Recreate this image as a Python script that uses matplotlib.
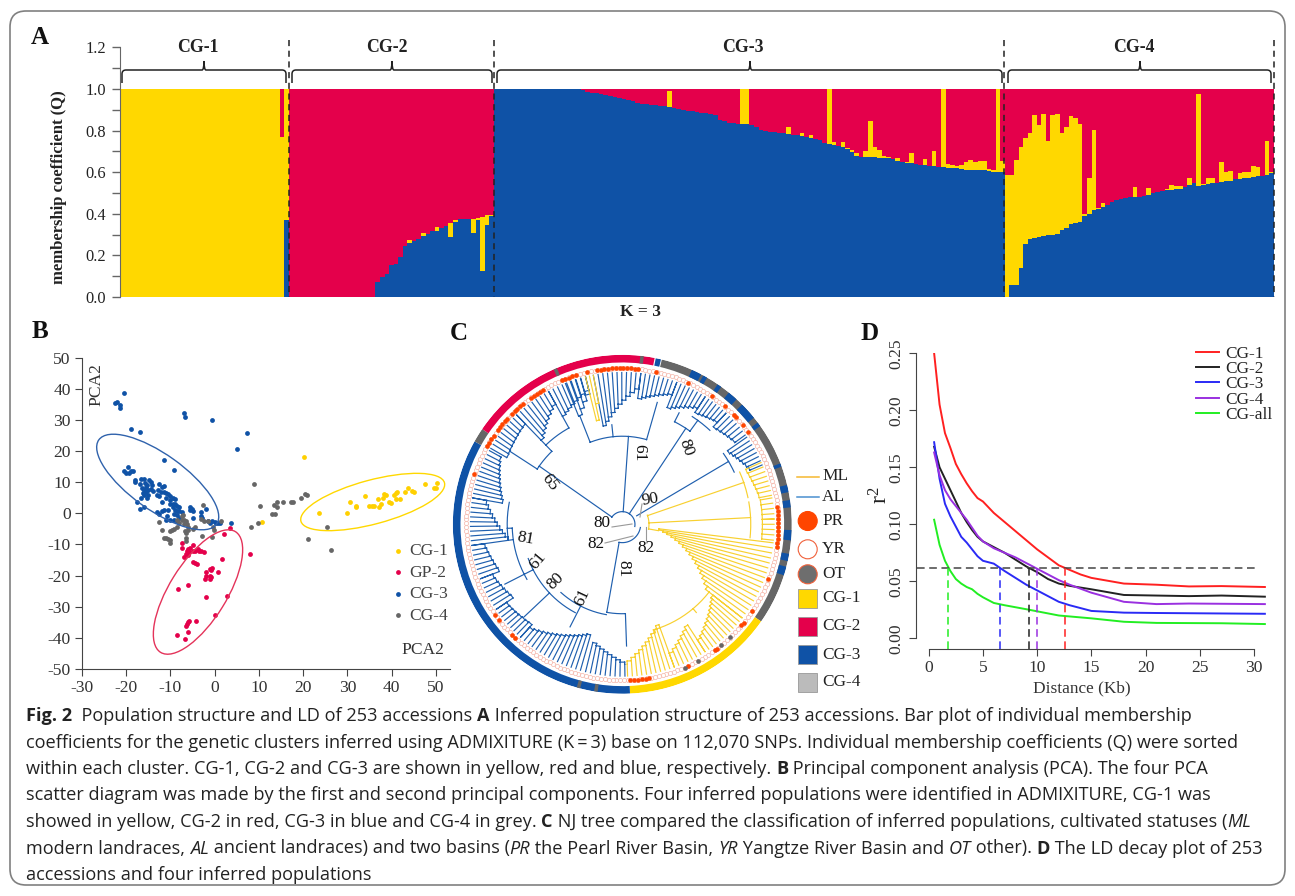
import numpy as np
import matplotlib
matplotlib.use('Agg')
import matplotlib.pyplot as plt
from matplotlib.path import Path
from matplotlib.patches import PathPatch, Ellipse, Circle, Rectangle, FancyBboxPatch

W, H = 1295, 896
YEL, RED, BLU, GRY = '#FFD800', '#E4004B', '#0F52A6', '#666666'
SERIF = 'Liberation Serif'
plt.rcParams['font.family'] = SERIF
plt.rcParams['mathtext.fontset'] = 'custom'
plt.rcParams['mathtext.rm'] = SERIF
plt.rcParams['axes.unicode_minus'] = False

# panel A, one entry per accession: blue share and yellow share, the rest is red
cg1Blue = [0.0] * 36 + [0.37]
cg1Yellow = [1.0] * 35 + [0.77, 0.63]
cg2Blue = [0.0] * 19 + [0.07, 0.095, 0.11, 0.155, 0.16, 0.19, 0.245, 0.26, 0.27, 0.28, 0.295, 0.305, 0.315,
                        0.315, 0.33, 0.34, 0.29, 0.36, 0.375, 0.375, 0.375, 0.31, 0.37, 0.125, 0.345, 0.39]
cg2Yellow = [0.0] * 19 + [0, 0, 0, 0, 0, 0, 0, 0.015, 0, 0, 0.015, 0, 0,
                          0.02, 0, 0, 0.065, 0.01, 0, 0, 0, 0.065, 0.01, 0.26, 0.05, 0.005]
cg3Blue = [1.0] * 19 + [0.995, 0.985, 0.98, 0.98, 0.975, 0.97, 0.965, 0.96, 0.955, 0.95, 0.945, 0.94, 0.935,
                        0.928, 0.928, 0.925, 0.923, 0.92, 0.917, 0.912, 0.908, 0.905, 0.90,
                        0.895, 0.893, 0.89, 0.885, 0.883, 0.88, 0.875, 0.85, 0.845, 0.838,
                        0.835, 0.833, 0.83, 0.83, 0.825, 0.815, 0.805, 0.80, 0.795, 0.793,
                        0.79, 0.788, 0.785, 0.78, 0.778, 0.775, 0.77, 0.765, 0.76, 0.755,
                        0.74, 0.735, 0.73, 0.725, 0.72, 0.71, 0.695, 0.68, 0.675, 0.675,
                        0.675, 0.675, 0.67, 0.67, 0.67, 0.665, 0.655, 0.65, 0.645, 0.645,
                        0.64, 0.635, 0.635, 0.63, 0.63, 0.625, 0.625, 0.62, 0.62, 0.62,
                        0.615, 0.612, 0.61, 0.61, 0.61, 0.61, 0.605, 0.60, 0.60, 0.60]
cg3Yellow = [0.0] * 32 + [0, 0, 0, 0, 0, 0, 0.078, 0, 0, 0,
                          0, 0, 0, 0, 0, 0, 0, 0, 0, 0,
                          0, 0, 0.17, 0.17, 0, 0, 0, 0, 0, 0,
                          0, 0, 0.031, 0, 0, 0.015, 0, 0.015, 0, 0,
                          0, 0.265, 0.015, 0, 0.025, 0.005, 0.01, 0.01, 0, 0.025,
                          0.17, 0.045, 0.035, 0.01, 0.005, 0, 0.015, 0, 0.005, 0.045,
                          0, 0, 0.03, 0, 0.07, 0, 0.375, 0.02, 0.015, 0.01,
                          0.02, 0.038, 0.05, 0.04, 0.045, 0.045, 0.01, 0.01, 0.40, 0.055]
cg4Blue = [0.0, 0.06, 0.06, 0.14, 0.255, 0.28, 0.285, 0.29, 0.295, 0.30,
           0.30, 0.305, 0.32, 0.33, 0.35, 0.355, 0.36, 0.39, 0.40, 0.42,
           0.425, 0.435, 0.44, 0.455, 0.465, 0.47, 0.475, 0.48, 0.48, 0.48,
           0.485, 0.49, 0.50, 0.505, 0.51, 0.515, 0.515, 0.52, 0.52, 0.53,
           0.54, 0.55, 0.535, 0.54, 0.545, 0.55, 0.55, 0.555, 0.56, 0.56,
           0.565, 0.565, 0.57, 0.57, 0.575, 0.58, 0.58, 0.585, 0.595]
cg4Yellow = [0.585, 0.525, 0.60, 0.58, 0.51, 0.51, 0.59, 0.535, 0.585, 0.45,
             0.575, 0.575, 0.47, 0.485, 0.52, 0.505, 0.47, 0.01, 0.17, 0.385,
             0.005, 0.015, 0, 0, 0, 0, 0, 0, 0.05, 0,
             0, 0.035, 0, 0, 0, 0.005, 0.025, 0.015, 0.015, 0,
             0.03, 0, 0.44, 0.005, 0.025, 0.02, 0, 0.095, 0.04, 0.045,
             0, 0.03, 0.03, 0.03, 0.055, 0.045, 0, 0.165, 0.005]
clusterNames = ['CG-1', 'CG-2', 'CG-3', 'CG-4']
qTicks = [0.0, 0.2, 0.4, 0.6, 0.8, 1.0, 1.2]

# panel B
cg1X = [20.3, 10.7, 23.5, 30, 30.5, 32, 32, 34, 35, 35.5, 36, 37, 37.2, 37.7, 38, 38.2, 38.7, 39.5, 39.8, 40.5,
        41, 41, 41.3, 42, 43, 43.8, 44.5, 45, 47.5, 49.6, 50, 50.2]
cg1Y = [18.2, -2.8, 0, 0.2, 3.5, 2.5, 2, 5.7, 2.5, 2.5, 2.4, 4.5, 2.2, 3, 4.8, 6.2, 6, 3.8, 3.4, 6,
        4.7, 6.5, 7, 4.7, 7, 8, 7.2, 6.8, 9.4, 8, 8, 9.7]
cg2X = [3.5, 2.2, 8, 1.7, -7.5, -7.5, -5, -5.5, -6, -6.3, -5.7, -5, -4.5, -3.7, -3.5, -3, -2.5, -6.5, -6, -7, -5,
        -4.5, -4, -2, -1, -0.8, -0.5, -2, -2.2, -1, -1, -0.8, 0.8, -8.2, -6, -2, 2.7, 0, -5.8, -6, -6.3, -4.3,
        -6.5, -6, -8.5, -6.8]
cg2Y = [-4.7, -6.5, -13.2, -14.7, -9.5, -11, -10.3, -11, -11.5, -12, -12.5, -12, -12, -11.5, -12, -12.2, -12.5,
        -13, -13.5, -14, -15.5, -16, -16.2, -19, -18, -18.2, -17.5, -20, -21, -20, -21, -20.5, -18.8, -24.4, -23,
        -27, -26.6, -32.7, -34.5, -35, -35.5, -34.7, -36.3, -38, -39.2, -40.3]
cg3X = [-20.5, -22, -22.5, -21.5, -21.3, -7, -6.7, -0.7, 7.2, 5, -19, -17, -11.5, -9.3, -19.5, -20.5, -20, -19.3,
        -19, -18.5, -18, -18, -17, -16.6, -16, -15.8, -15.3, -14.8, -14.5, -14.2, -16.5, -16, -15.5, -15, -14.5,
        -14, -16.3, -16, -15.5, -15, -16.6, -15.2, -17.5, -17, -16, -12.5, -12, -11.5, -12.8, -12.2, -11.5, -11,
        -13, -12.5, -10.5, -10, -9.5, -11, -10.2, -9, -11.8, -10, -9.5, -9, -8.5, -8, -9.5, -10.5, -11.5, -12,
        -13, -12.5, -9, -8.5, -8, -7.5, -9.2, -8.5, -10.8, -11, -10.2, -9.2, -8.5, -8, -5.5, -5.2, -5.5, -5, -3.2,
        -2, -3, -2.8, -5, -1.5, -1, -0.5, 0, 0.3, 0.8, 1.2, 3.8]
cg3Y = [38.7, 35.8, 35.5, 34.7, 34, 32.3, 30.8, 30, 25.7, 20.7, 27, 26, 17, 14, 15, 13.5, 13, 13, 13.5, 13.5, 10.8,
        10.2, 9.5, 10.9, 11, 9.7, 9, 10.7, 10, 9, 8, 7.5, 8.5, 7.5, 7.8, 7.2, 6.5, 6, 6.8, 6, 4.8, 5, 3.5, 1.5,
        1.9, 9.3, 8.5, 8.8, 7.5, 7, 7, 6.5, 6, 5.5, 6.2, 5.5, 5, 5, 4.2, 4.5, 3.5, 3, 3, 3, 2.5, 2, 2, 1, 1, 0.8,
        0.5, -0.2, 1, 0.8, 0.8, 0.3, -0.2, -0.5, -0.8, -2, -2.2, -2, -2.5, -1.5, 2, 1.5, 1, 0.7, 0.5, 1.5, -0.8,
        -1.5, -1.5, -2.5, -3, -2.5, -2.8, -3, -3.2, -3.2, -3]
cg4X = [9, 10.3, 9.7, 8.2, 13, 13.7, 14, 13.5, 14.2, 15.5, 17.3, 17.8, 19.5, 20.5, 20.8, 25.3, 21, 26.3, -2.7, -12.5,
        -11.8, -11.5, -11, -10.5, -10.2, -10, -10, -9.7, -9.2, -8.5, -8.5, -8, -7.5, -7.5, -7.2, -7, -7, -6.5,
        -6.8, -6.5, -6, -6.2, -6.5, -6.5, -6, -5, -4.5, -3, -2.5, -1.5, -2.8, -0.6, -0.3, -0.2, 1.5]
cg4Y = [9.5, 2.4, -3.1, -4.5, -0.2, -0.2, 3.5, 2.8, 2, 3.8, 3.5, 3.7, 4.8, 6.2, 6, -4.5, -8.4, -11.7, 2.7, -2.7,
        -5.5, -8, -8, -8.3, -9.5, -8.7, -5.6, -5.2, -5, -4.5, -2, -3, -2.2, -1, -0.5, -2, -3.5, -2.5,
        -5.8, -6.2, -5.5, -3.5, -8, -9, -4.5, -5, -4.5, -1.8, -2.5, -2.5, -7.3, -7.7, -4.5, -5.3, -2.5]
pcaTicks = [-30, -20, -10, 0, 10, 20, 30, 40, 50]
pcaYTicks = [-50, -40, -30, -20, -10, 0, 10, 20, 30, 40, 50]

# panel C, angles in degrees clockwise from north, radii in ring units
ringAngles = [13.5, 125, 177.4, 299.3, 304.2]
greyInBlue = [189, 195]
greyInRed = [336.7, 6.7]
blueInGrey = [(12.3, 1.8), (26, 3.5), (29.3, 1.5), (35, 1.5), (40.7, 3.5), (48, 6), (53.8, 1.5), (69.5, 1.2),
              (77.8, 2.5), (83, 2.5), (93.7, 3.5), (101.3, 2.5), (106, 3)]
prAngles = [-9.4, -8, -6.6, -5.2, -3.8, -2.4, -1, 0.4, 1.8, 3.2, 4.6, 5.9, -13.2, 12.5, 25, 35, 41, 45.6, 46.8, 50.7,
            53.6, 83.5, 85, 86.5, 88, 89.5, 91, 92.5, 94, 95.5, 97, 98.2, 110.7, 123.7, 129, 130.3, 142.7, 143.8,
            155.3, 170, 171.4, 172.8, 174.2, 175.6, 177, 223.5, 224.7, 232, 234.7, 288.6, 300, 301.5, 303, 304.5, 307,
            308.4, 309.8, 311.2, 312.6, 315, 316.4, 317.8, 319.2, 320.6, 324, 325.4, 326.8, 328.2, 329.6, 337.2,
            338.6, 340, 341.4, 342.8]
otAngles = [156.5, 150.8, 140.7, 136.4]
# (start angle, end angle, root radius)
alClades = [(300, 316, 400), (316, 331, 350), (331, 346, 370), (-22, -14, 350), (-11, 7, 300), (7, 21, 380),
            (21, 33, 375), (33, 43, 400), (43, 54, 400), (55, 67, 385), (194, 179, 365), (196, 222, 345),
            (222, 236, 405), (236, 249, 395), (249, 262, 395), (262, 280, 345), (280, 299, 365)]
mlClades = [(-14, -11, 320), (66, 79, 405), (80, 88, 420), (88, 96, 420), (128, 147, 345), (147, 160, 360),
            (160, 178, 320)]
# (angle, inner radius, outer radius)
alSpokes = [(305, 38, 304), (303, 304, 400), (316, 304, 330), (331, 330, 370), (316, 330, 350), (4, 38, 264),
            (-6, 264, 300), (-21.4, 264, 350), (16, 264, 380), (33.5, 38, 345), (27, 345, 375), (36, 345, 385),
            (59.4, 50, 370), (190, 55, 268), (178, 268, 365), (207, 275, 345), (226.7, 300, 405), (243, 300, 395),
            (262, 330, 345), (268, 330, 345)]
# (start angle, end angle, radius)
alArcs = [(-56, 100, 38), (100, 190, 55), (303, 316, 304), (316, 331, 330), (-21.4, 16, 264), (27, 36, 345),
          (55, 65, 370), (178, 190, 268), (190, 222, 275), (208, 250, 300), (240, 268, 330), (262, 281, 345),
          (33, 43, 385)]
mlSpokes = [(71, 80, 385), (87, 80, 385), (100, 80, 110), (140, 330, 345), (163, 330, 340)]
mlArcs = [(70, 100, 80), (66, 78, 385), (80, 96, 385), (128, 163, 330)]
bootstrapLabels = ['65', '61', '80', '80', '82', '82', '90', '81', '81', '61', '80', '61']
bootstrapX = [550, 639, 686, 602, 596, 646, 650, 623, 526, 538, 556, 582]
bootstrapY = [482, 453, 448, 523, 544, 548, 500, 569, 539, 561, 581, 597]
bootstrapRot = [-52, -90, -70, 0, 0, 0, 10, -90, -10, 50, 45, 65]

# panel D
distCg1 = [0.5, 1, 1.5, 2, 2.5, 3, 3.5, 4, 4.5, 5, 6, 7, 8, 9, 10, 11, 12, 13, 14, 15, 18, 21, 24, 27, 31]
ldCg1 = [0.25, 0.205, 0.18, 0.167, 0.153, 0.144, 0.136, 0.129, 0.123, 0.12, 0.11, 0.102, 0.094, 0.086, 0.078, 0.071,
         0.064, 0.06, 0.056, 0.053, 0.048, 0.047, 0.0455, 0.0458, 0.045]
distCg2 = [0.5, 1, 1.5, 2, 2.5, 3, 3.5, 4, 4.5, 5, 6, 7, 8, 9, 10, 11, 12, 13, 15, 18, 21, 24, 27, 31]
ldCg2 = [0.168, 0.15, 0.14, 0.13, 0.12, 0.11, 0.102, 0.095, 0.089, 0.085, 0.08, 0.075, 0.069, 0.063, 0.058, 0.052,
         0.048, 0.046, 0.043, 0.038, 0.0375, 0.037, 0.0375, 0.0365]
distCg3 = [0.5, 1, 1.5, 2, 2.5, 3, 3.5, 4, 4.5, 5, 6, 7, 8, 9, 10, 11, 12, 13, 15, 18, 21, 31]
ldCg3 = [0.172, 0.14, 0.118, 0.107, 0.098, 0.089, 0.084, 0.078, 0.072, 0.068, 0.0655, 0.059, 0.053, 0.047, 0.042,
         0.037, 0.032, 0.029, 0.024, 0.0225, 0.0222, 0.0215]
distCg4 = [0.5, 1, 1.5, 2, 2.5, 3, 3.5, 4, 4.5, 5, 6, 7, 8, 9, 10, 11, 12, 13, 15, 18, 21, 24, 31]
ldCg4 = [0.163, 0.143, 0.13, 0.122, 0.116, 0.11, 0.104, 0.097, 0.09, 0.085, 0.079, 0.075, 0.071, 0.066, 0.061, 0.056,
         0.051, 0.047, 0.04, 0.032, 0.03, 0.0305, 0.03]
distAll = [0.5, 1, 1.5, 2, 2.5, 3, 3.5, 4, 4.5, 5, 6, 7, 9, 12, 15, 18, 21, 27, 31]
ldAll = [0.104, 0.082, 0.068, 0.059, 0.052, 0.048, 0.045, 0.043, 0.039, 0.036, 0.031, 0.029, 0.0255, 0.02, 0.0175,
         0.0145, 0.0135, 0.0132, 0.0125]
ldNames = ['CG-1', 'CG-2', 'CG-3', 'CG-4', 'CG-all']
ldColors = ['#FF2020', '#222222', '#2A2AF5', '#9A30E0', '#22EE22']
ldDrops = [12.6, 9.25, 6.55, 10.0, 1.75]
ldThreshold = 0.0615

captionLines = [
    [('Fig. 2', 'b'), ('  Population structure and LD of 253 accessions ', ''), ('A', 'b'),
     (' Inferred population structure of 253 accessions. Bar plot of individual membership', '')],
    [('coefficients for the genetic clusters inferred using ADMIXITURE (K\u2009=\u20093) base on 112,070 SNPs. '
      'Individual membership coefficients (Q) were sorted', '')],
    [('within each cluster. CG-1, CG-2 and CG-3 are shown in yellow, red and blue, respectively. ', ''), ('B', 'b'),
     (' Principal component analysis (PCA). The four PCA', '')],
    [('scatter diagram was made by the first and second principal components. Four inferred populations were '
      'identified in ADMIXITURE, CG-1 was', '')],
    [('showed in yellow, CG-2 in red, CG-3 in blue and CG-4 in grey. ', ''), ('C', 'b'),
     (' NJ tree compared the classification of inferred populations, cultivated statuses (', ''), ('ML', 'i')],
    [('modern landraces, ', ''), ('AL', 'i'), (' ancient landraces) and two basins (', ''), ('PR', 'i'),
     (' the Pearl River Basin, ', ''), ('YR', 'i'), (' Yangtze River Basin and ', ''), ('OT', 'i'), (' other). ', ''),
     ('D', 'b'), (' The LD decay plot of 253', '')],
    [('accessions and four inferred populations', '')],
]
captionY = [716, 742.5, 769, 795.5, 822, 848.5, 875]


def box(left, top, right, bottom, **kw):
    return fig.add_axes([left / W, 1 - bottom / H, (right - left) / W, (bottom - top) / H], **kw)


def bracket(ax, x0, x1, xc):
    verts = [(x0, 83), (x0, 74), (x0, 70), (x0 + 4, 70), (xc - 2, 70), (xc, 70), (xc, 61), (xc, 70), (xc + 2, 70),
             (x1 - 4, 70), (x1, 70), (x1, 74), (x1, 83)]
    codes = [Path.MOVETO, Path.LINETO, Path.CURVE3, Path.CURVE3, Path.LINETO, Path.CURVE3, Path.CURVE3, Path.CURVE3,
             Path.CURVE3, Path.LINETO, Path.CURVE3, Path.CURVE3, Path.LINETO]
    ax.add_patch(PathPatch(Path(verts, codes), fill=False, ec='#222222', lw=1.1))


def addArc(segs, a0, a1, r):
    t = np.radians(np.linspace(a0, a1, max(2, int(abs(a1 - a0)) + 2)))
    segs[0].extend(t.tolist() + [np.nan])
    segs[1].extend([r] * len(t) + [np.nan])


def addSpoke(segs, a, r0, r1):
    segs[0].extend([np.radians(a), np.radians(a), np.nan])
    segs[1].extend([r0, r1, np.nan])


def addLadder(segs, a0, a1, r0, rEnd=420, tip=455, step=1.8):
    n = max(2, int(round(abs(a1 - a0) / step)) + 1)
    angles = np.linspace(a0, a1, n)
    radii = np.linspace(r0, rEnd, n)
    for i in range(n):
        addSpoke(segs, angles[i], radii[i], tip)
        if i > 0:
            addArc(segs, angles[i - 1], angles[i], radii[i - 1])
            addSpoke(segs, angles[i], radii[i - 1], radii[i])


fig = plt.figure(figsize=(W / 100, H / 100), dpi=100)

# panel A
axA = box(120, 47.4, 1274, 297)
blue = np.array(cg1Blue + cg2Blue + cg3Blue + cg4Blue, dtype=float)
yellow = np.array(cg1Yellow + cg2Yellow + cg3Yellow + cg4Yellow, dtype=float)
pos = np.arange(len(blue))
axA.bar(pos, blue, width=1.0, color=BLU, lw=0)
axA.bar(pos, yellow, width=1.0, bottom=blue, color=YEL, lw=0)
axA.bar(pos, 1 - blue - yellow, width=1.0, bottom=blue + yellow, color=RED, lw=0)
axA.set_xlim(-0.5, len(blue) - 0.5)
axA.set_ylim(0, 1.2)
axA.set_xticks([])
axA.set_yticks(qTicks)
axA.set_yticklabels(['%.1f' % v for v in qTicks])
axA.set_yticks(np.arange(0.1, 1.2, 0.2), minor=True)
axA.tick_params(axis='y', which='both', color='#666666', length=6, width=1, labelsize=11.8, pad=4, labelcolor='#222222')
for s in ['top', 'right', 'bottom']:
    axA.spines[s].set_visible(False)
axA.spines['left'].set_color('#666666')
axA.patch.set_alpha(0)

# panel B
axB = box(82, 357.7, 450, 669)
axB.scatter(cg1X, cg1Y, s=12, color='#FFD000', lw=0, label='CG-1')
axB.scatter(cg2X, cg2Y, s=12, color=RED, lw=0, label='GP-2')
axB.scatter(cg3X, cg3Y, s=12, color=BLU, lw=0, label='CG-3')
axB.scatter(cg4X, cg4Y, s=12, color=GRY, lw=0, label='CG-4')
axB.set_xlim(-30, 53.2)
axB.set_ylim(-50, 50)
axB.set_xticks(pcaTicks)
axB.set_yticks(pcaYTicks)
axB.tick_params(labelsize=12.6, color='#444444', labelcolor='#333333', length=5, pad=3)
for s in ['top', 'right']:
    axB.spines[s].set_visible(False)
for s in ['left', 'bottom']:
    axB.spines[s].set_color('#444444')
axB.legend(loc='upper left', bbox_to_anchor=(0.83, 0.405), frameon=False, fontsize=12.6, labelspacing=0.3,
           handletextpad=0.05, borderpad=0, borderaxespad=0, labelcolor='#444444', handlelength=1.2)
axB.patch.set_alpha(0)

# panel C
axC = box(622.3 - 169.5, 524.3 - 169.5, 622.3 + 169.5, 524.3 + 169.5, projection='polar')
axC.set_theta_zero_location('N')
axC.set_theta_direction(-1)
axC.set_ylim(0, 508)
axC.axis('off')


def ringBar(a0, a1, color):
    axC.bar(np.radians((a0 + a1) / 2), 23, width=np.radians(a1 - a0), bottom=485, color=color, lw=0)


ringBar(ringAngles[0], ringAngles[1], GRY)
ringBar(ringAngles[1], ringAngles[2], YEL)
ringBar(ringAngles[2], ringAngles[3], BLU)
ringBar(ringAngles[3], ringAngles[4], GRY)
ringBar(ringAngles[4], 360 + ringAngles[0] - 2.5, RED)
for a in greyInBlue:
    ringBar(a - 0.6, a + 0.6, GRY)
for a in greyInRed:
    ringBar(a - 0.6, a + 0.6, GRY)
for a, w in blueInGrey:
    ringBar(a - w / 2, a + w / 2, BLU)

alSegs = ([], [])
mlSegs = ([], [])
for a0, a1, r0 in alClades:
    addLadder(alSegs, a0, a1, r0)
for a0, a1, r0 in mlClades:
    addLadder(mlSegs, a0, a1, r0)
addLadder(mlSegs, 97, 128, 110, rEnd=330, step=1.9)
for a, r0, r1 in alSpokes:
    addSpoke(alSegs, a, r0, r1)
for a0, a1, r in alArcs:
    addArc(alSegs, a0, a1, r)
for a, r0, r1 in mlSpokes:
    addSpoke(mlSegs, a, r0, r1)
for a0, a1, r in mlArcs:
    addArc(mlSegs, a0, a1, r)
axC.plot(alSegs[0], alSegs[1], color='#1F5FAE', lw=0.85)
axC.plot(mlSegs[0], mlSegs[1], color='#F8D030', lw=0.85)

leafTheta = np.radians(np.arange(253) * 360 / 253)
axC.scatter(leafTheta, [468] * 253, s=9, facecolor='white', edgecolor='#F5B5A8', lw=0.5)
axC.scatter(np.radians(prAngles), [468] * len(prAngles), s=11, color='#FF4500', lw=0)
axC.scatter(np.radians(otAngles), [468] * len(otAngles), s=11, color=GRY, lw=0)

# panel D
axD = box(915.7, 353.3, 1266.5, 649.3)
allDist = [distCg1, distCg2, distCg3, distCg4, distAll]
allLd = [ldCg1, ldCg2, ldCg3, ldCg4, ldAll]
for d, v, c, n in zip(allDist, allLd, ldColors, ldNames):
    axD.plot(d, v, color=c, lw=1.4, label=n)
axD.set_xlim(-1.2, 31.15)
axD.set_ylim(-0.00965, 0.25)
axD.plot([-1.1, 30.4], [ldThreshold, ldThreshold], color='#444444', lw=1.1, ls=(0, (5, 3)))
for x, c in zip(ldDrops, ldColors):
    axD.plot([x, x], [-0.00965, ldThreshold], color=c, lw=1.1, ls=(0, (5, 3)))
axD.set_xticks([0, 5, 10, 15, 20, 25, 30])
axD.set_yticks([0, 0.05, 0.10, 0.15, 0.20, 0.25])
axD.set_yticklabels(['0.00', '0.05', '0.10', '0.15', '0.20', '0.25'], rotation=90, va='center')
axD.tick_params(labelsize=12.6, color='#444444', labelcolor='#333333', length=5, pad=3)
for s in ['top', 'right']:
    axD.spines[s].set_visible(False)
axD.spines['left'].set_bounds(0, 0.25)
axD.spines['bottom'].set_bounds(0, 30)
axD.spines['left'].set_color('#444444')
axD.spines['bottom'].set_color('#444444')
axD.legend(loc='upper left', bbox_to_anchor=(0.8, 1.025), frameon=False, fontsize=12.4, labelspacing=-0.05,
           handlelength=1.3, handletextpad=0.4, borderpad=0, borderaxespad=0, labelcolor='#222222')
axD.patch.set_alpha(0)

# overlay in pixel coordinates
ov = fig.add_axes([0, 0, 1, 1], zorder=10)
ov.set_xlim(0, W)
ov.set_ylim(H, 0)
ov.axis('off')
ov.patch.set_alpha(0)
ov.add_patch(FancyBboxPatch((20, 21), W - 30 - 10, H - 14 - 28, boxstyle='round,pad=10,rounding_size=16', fill=False,
                            ec='#808080', lw=1.2))

for x, y, t in [(40, 38, 'A'), (40, 331, 'B'), (459, 334, 'C'), (870, 334, 'D')]:
    ov.text(x, y, t, fontsize=18, fontweight='bold', ha='center', va='center', color='#111111')

for x, n in zip([198, 387, 743, 1134], clusterNames):
    ov.text(x, 48, n, fontsize=12.8, fontweight='bold', ha='center', va='center', color='#222222')
bracket(ov, 122, 286, 204)
bracket(ov, 292, 492, 392)
bracket(ov, 497, 1002, 750)
bracket(ov, 1008, 1271, 1140)
for x in [289, 494, 1004, 1274]:
    ov.plot([x, x], [40, 297], color='#222222', lw=1.1, ls=(0, (4, 3)))
ov.text(641, 312, 'K = 3', fontsize=12.5, fontweight='bold', ha='center', va='center', color='#222222')
ov.text(59, 187, 'membership coefficient (Q)', fontsize=12, fontweight='bold', rotation=90, ha='center', va='center',
        color='#222222')

ov.text(96, 385, 'PCA2', fontsize=12.6, rotation=90, ha='center', va='center', color='#333333')
ov.text(423, 650, 'PCA2', fontsize=12.6, ha='center', va='center', color='#333333')
ov.add_patch(Ellipse((372.7, 502), 148.6, 44, angle=-15, fill=False, ec='#FFD800', lw=1.0))
ov.add_patch(Ellipse((157.7, 482), 144.8, 55.4, angle=35.6, fill=False, ec='#2F62AC', lw=1.0))
ov.add_patch(Ellipse((198, 592), 142, 57.4, angle=-58.2, fill=False, ec='#E4335A', lw=1.0))

for t, x, y, r in zip(bootstrapLabels, bootstrapX, bootstrapY, bootstrapRot):
    ov.text(x, y, t, fontsize=12.4, rotation=r, ha='center', va='center', color='#111111')
for xs, ys in [([612, 632], [527, 524]), ([605, 633], [543, 536]), ([646, 646], [540, 527]), ([640, 642], [517, 504])]:
    ov.plot(xs, ys, color='#999999', lw=0.8)

ov.plot([797, 819], [476.7, 476.7], color='#F5B830', lw=1.1)
ov.plot([797, 819], [496.7, 496.7], color='#4A90D0', lw=1.1)
ov.add_patch(Circle((807.7, 521), 9.5, fc='#FF4500', ec='#FF4500', lw=0.8))
ov.add_patch(Circle((807.7, 549.3), 9.5, fc='white', ec='#F0603A', lw=0.8))
ov.add_patch(Circle((807.7, 574.3), 9.5, fc='#6E6E6E', ec='#F0603A', lw=0.8))
for y, c in zip([599, 626.7, 655, 682.7], [YEL, RED, BLU, '#BBBBBB']):
    ov.add_patch(Rectangle((798, y - 9.5), 19, 19, fc=c, ec='#999999', lw=0.6))
for y, t in zip([476, 497, 521, 549, 574, 598, 626, 655, 682],
                ['ML', 'AL', 'PR', 'YR', 'OT', 'CG-1', 'CG-2', 'CG-3', 'CG-4']):
    ov.text(822, y, t, fontsize=12.4, ha='left', va='center', color='#222222')

ov.text(881, 495, r'$\mathrm{r^2}$', fontsize=17, rotation=90, ha='center', va='center', color='#222222')
ov.text(1081.5, 688, 'Distance (Kb)', fontsize=12.4, ha='center', va='center', color='#333333')

# caption, one run at a time because of the bold and italic parts
renderer = fig.canvas.get_renderer()
capFont = 'Open Sans'
capSize = 13.1


def runWidth(t, style):
    kw = {'fontweight': 'bold'} if style == 'b' else {'fontstyle': 'italic'} if style == 'i' else {}
    probe = ov.text(0, 0, t + 'x', family=capFont, fontsize=capSize, **kw)
    w = probe.get_window_extent(renderer).width
    probe.set_text('x')
    w -= probe.get_window_extent(renderer).width
    probe.remove()
    return w


for runs, y in zip(captionLines, captionY):
    x = 26
    for t, style in runs:
        kw = {'fontweight': 'bold'} if style == 'b' else {'fontstyle': 'italic'} if style == 'i' else {}
        ov.text(x, y, t, family=capFont, fontsize=capSize, va='center', ha='left', color='#222222', **kw)
        x += runWidth(t, style)

fig.savefig('out.png', dpi=100)
